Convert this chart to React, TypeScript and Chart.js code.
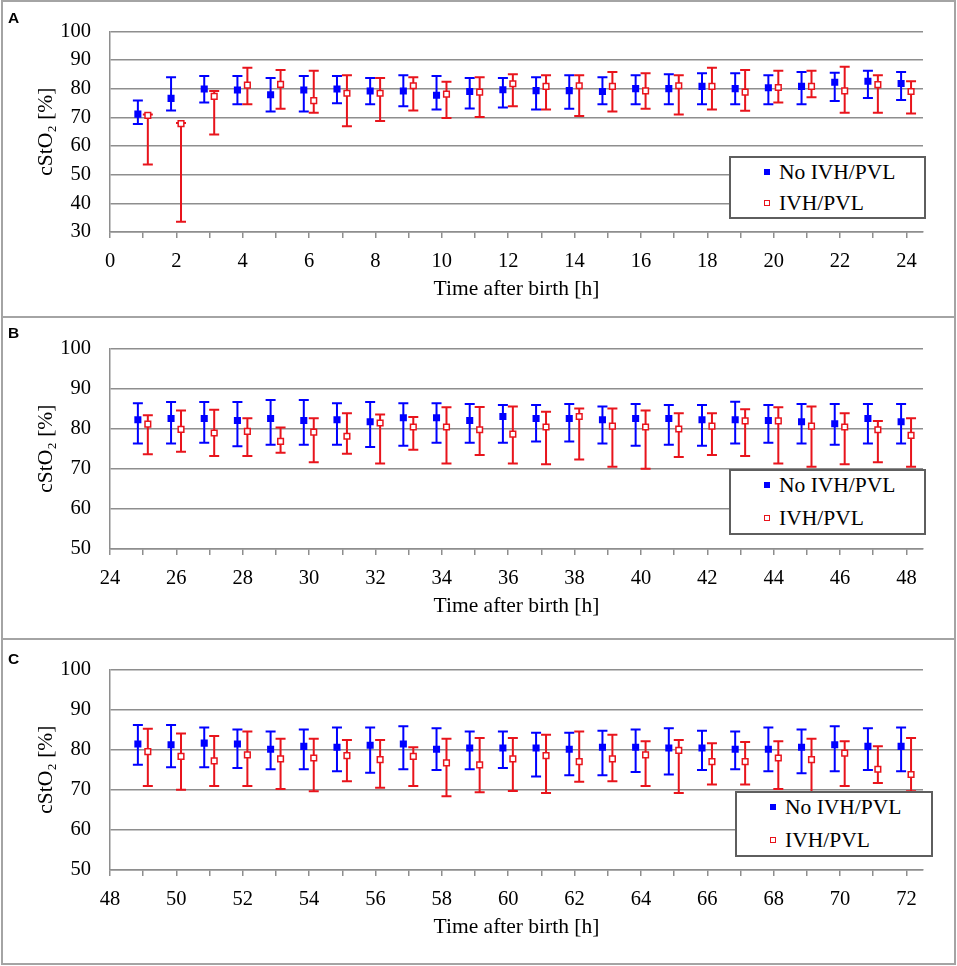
import React, { useEffect, useRef } from "react";
import { Chart, registerables } from "chart.js";

Chart.register(...registerables);

// hours after birth per panel
const hoursA = [1, 2, 3, 4, 5, 6, 7, 8, 9, 10, 11, 12, 13, 14, 15, 16, 17, 18, 19, 20, 21, 22, 23, 24];
const hoursB = [25, 26, 27, 28, 29, 30, 31, 32, 33, 34, 35, 36, 37, 38, 39, 40, 41, 42, 43, 44, 45, 46, 47, 48];
const hoursC = [49, 50, 51, 52, 53, 54, 55, 56, 57, 58, 59, 60, 61, 62, 63, 64, 65, 66, 67, 68, 69, 70, 71, 72];

// panel A: 0-24 h
const noA = [71.1, 76.6, 79.9, 79.5, 77.9, 79.5, 79.9, 79.2, 79.2, 77.7, 79.0, 79.6, 79.3, 79.3, 79.0, 80.0, 80.0, 80.8, 80.0, 80.3, 80.8, 82.2, 82.6, 81.8];
const noAHigh = [75.9, 84.0, 84.4, 84.4, 83.7, 84.4, 84.4, 83.7, 84.7, 84.4, 83.7, 83.7, 84.0, 84.7, 84.0, 84.7, 85.0, 85.4, 85.4, 84.7, 85.8, 85.5, 86.2, 85.8];
const noALow = [67.7, 72.4, 75.2, 74.6, 72.0, 72.0, 74.9, 74.6, 73.9, 72.7, 73.1, 73.4, 72.7, 73.0, 74.6, 74.6, 74.6, 74.6, 74.6, 74.6, 74.6, 75.7, 76.7, 76.0];
const ivhA = [70.7, 67.8, 77.3, 81.2, 81.5, 75.8, 78.4, 78.4, 81.0, 78.1, 78.8, 81.7, 80.8, 81.0, 80.8, 79.2, 81.0, 80.8, 78.8, 80.4, 80.8, 79.2, 81.4, 79.0];
const ivhAHigh = [71.0, 68.0, 79.2, 87.3, 86.5, 86.2, 84.7, 83.7, 84.0, 82.4, 84.0, 85.0, 84.7, 84.7, 85.8, 85.4, 84.7, 87.3, 86.5, 86.2, 86.2, 87.6, 84.7, 82.6];
const ivhALow = [53.5, 33.6, 64.0, 74.6, 73.0, 71.6, 66.9, 68.7, 72.4, 69.8, 70.1, 73.9, 72.7, 70.5, 72.0, 73.0, 71.0, 72.7, 72.3, 75.2, 77.0, 71.6, 71.6, 71.3];

// panel B: 24-48 h
const noB = [82.2, 82.5, 82.5, 82.0, 82.5, 82.0, 82.2, 81.7, 82.7, 82.7, 82.0, 83.0, 82.5, 82.5, 82.2, 82.5, 82.5, 82.2, 82.2, 82.0, 81.7, 81.2, 82.5, 81.7];
const noBHigh = [86.3, 86.6, 86.6, 86.6, 87.1, 87.1, 86.3, 86.6, 86.3, 86.3, 86.1, 85.9, 85.9, 86.1, 85.5, 86.1, 85.9, 85.9, 86.7, 85.9, 86.1, 86.1, 86.1, 86.1];
const noBLow = [76.3, 76.3, 76.5, 75.6, 76.0, 76.0, 76.0, 75.4, 75.7, 76.5, 76.5, 76.5, 76.8, 76.8, 76.3, 75.7, 76.0, 75.7, 76.3, 76.5, 76.3, 76.0, 76.3, 76.3];
const ivhB = [81.1, 79.8, 78.9, 79.3, 76.8, 79.1, 78.1, 81.4, 80.4, 80.4, 79.7, 78.6, 80.4, 83.0, 80.6, 80.4, 79.9, 80.6, 81.9, 81.9, 80.6, 80.4, 79.7, 78.3];
const ivhBHigh = [83.3, 84.5, 84.7, 82.6, 80.3, 82.6, 83.8, 83.5, 82.9, 85.3, 85.4, 85.5, 84.2, 85.0, 85.0, 84.5, 83.8, 83.8, 84.8, 85.3, 85.5, 83.8, 81.9, 82.6];
const ivhBLow = [73.6, 74.2, 73.2, 73.2, 74.0, 71.6, 73.7, 71.3, 74.7, 71.3, 73.4, 71.3, 71.1, 72.3, 70.5, 70.0, 72.9, 73.4, 73.2, 71.3, 70.5, 71.1, 71.6, 70.5];

// panel C: 48-72 h
const noC = [81.4, 81.2, 81.6, 81.4, 80.1, 80.8, 80.6, 81.1, 81.4, 80.1, 80.4, 80.4, 80.4, 80.1, 80.6, 80.6, 80.4, 80.4, 80.1, 80.1, 80.6, 81.2, 80.8, 80.8];
const noCHigh = [86.1, 86.1, 85.5, 85.0, 84.5, 85.0, 85.5, 85.5, 85.8, 85.3, 84.5, 84.5, 84.2, 84.2, 84.7, 85.0, 85.3, 84.7, 84.5, 85.5, 85.0, 85.8, 85.3, 85.5];
const noCLow = [76.2, 75.6, 75.6, 75.4, 75.1, 75.1, 74.6, 74.2, 75.1, 74.9, 75.1, 75.4, 73.3, 73.6, 73.6, 74.4, 73.8, 74.9, 75.1, 74.6, 74.1, 74.6, 74.9, 74.6];
const ivhC = [79.5, 78.3, 77.2, 78.7, 77.7, 77.9, 78.5, 77.5, 78.3, 76.7, 76.2, 77.7, 78.5, 77.0, 77.7, 78.7, 79.8, 77.0, 77.0, 77.9, 77.5, 79.1, 75.1, 73.8];
const ivhCHigh = [85.2, 84.0, 83.4, 84.5, 82.7, 82.7, 82.4, 82.4, 80.6, 82.7, 82.9, 82.9, 83.7, 84.5, 83.7, 82.1, 82.4, 81.6, 81.9, 82.1, 82.7, 82.1, 80.8, 82.9];
const ivhCLow = [70.9, 70.0, 70.9, 70.9, 70.2, 69.6, 72.1, 70.5, 70.9, 68.4, 69.4, 69.7, 69.2, 72.0, 72.1, 70.9, 69.2, 71.3, 71.3, 70.2, 69.4, 70.9, 71.7, 69.6];

const BLUE = "#0000ff";
const RED = "#e8141c";
const GRID = "#8e8e8e";
const FRAME = "#a4a4a4";
const SERIF = "'Liberation Serif', 'Times New Roman', serif";

Chart.defaults.font.family = SERIF;
Chart.defaults.font.size = 20;
Chart.defaults.color = "#000";

// draws whiskers under the markers, using the chart's own y scale
const errorBars = {
  id: "errorBars",
  beforeDatasetsDraw(chart: any) {
    const { ctx } = chart;
    const yScale = chart.scales.y;
    chart.data.datasets.forEach((ds: any, i: number) => {
      const meta = chart.getDatasetMeta(i);
      ctx.save();
      ctx.strokeStyle = ds.borderColor;
      ctx.lineWidth = 2;
      meta.data.forEach((pt: any, j: number) => {
        const x = pt.x;
        const yLo = yScale.getPixelForValue(ds.lows[j]);
        const yHi = yScale.getPixelForValue(ds.highs[j]);
        ctx.beginPath();
        ctx.moveTo(x, yLo);
        ctx.lineTo(x, yHi);
        ctx.moveTo(x - 5, yLo);
        ctx.lineTo(x + 5, yLo);
        ctx.moveTo(x - 5, yHi);
        ctx.lineTo(x + 5, yHi);
        ctx.stroke();
      });
      ctx.restore();
    });
  }
};

type Series = { mean: number[]; low: number[]; high: number[] };

type PanelProps = {
  hours: number[];
  no: Series;
  ivh: Series;
  xMin: number;
  yMin: number;
  top: number;
};

const Panel = ({ hours, no, ivh, xMin, yMin, top }: PanelProps) => {
  const canvasRef = useRef<HTMLCanvasElement>(null);

  useEffect(() => {
    if (!canvasRef.current) return;
    const chart = new Chart(canvasRef.current, {
      type: "scatter",
      data: {
        datasets: [
          {
            label: "No IVH/PVL",
            data: hours.map((h, i) => ({ x: h - 0.16, y: no.mean[i] })),
            lows: no.low,
            highs: no.high,
            backgroundColor: BLUE,
            borderColor: BLUE,
            pointStyle: "rect",
            pointRadius: 5,
            borderWidth: 0
          } as any,
          {
            label: "IVH/PVL",
            data: hours.map((h, i) => ({ x: h + 0.14, y: ivh.mean[i] })),
            lows: ivh.low,
            highs: ivh.high,
            backgroundColor: "#ffffff",
            borderColor: RED,
            pointStyle: "rect",
            pointRadius: 4,
            borderWidth: 1.5
          } as any
        ]
      },
      options: {
        animation: false,
        responsive: true,
        maintainAspectRatio: false,
        layout: { padding: { left: 0, right: 34, top: 25, bottom: 0 } },
        plugins: { legend: { display: false }, tooltip: { enabled: false } },
        scales: {
          x: {
            type: "linear",
            min: xMin,
            max: xMin + 24.5,
            afterFit: (scale: any) => {
              scale.height = 85;
            },
            ticks: {
              stepSize: 1,
              includeBounds: false,
              autoSkip: false,
              maxRotation: 0,
              padding: 11,
              color: "#000",
              font: { family: SERIF, size: 20.5 },
              callback: (v: any) => (Number(v) % 2 === 0 ? String(v) : "")
            },
            grid: {
              drawOnChartArea: false,
              drawTicks: true,
              tickLength: 6,
              color: GRID,
              lineWidth: 1.5
            },
            border: { display: true, color: GRID, width: 1.5 },
            title: {
              display: true,
              text: "Time after birth [h]",
              color: "#000",
              font: { family: SERIF, size: 21.5 },
              padding: { top: 0, bottom: 15 }
            }
          },
          y: {
            min: yMin,
            max: 100,
            afterFit: (scale: any) => {
              scale.width = 110;
            },
            ticks: {
              stepSize: 10,
              padding: 19,
              color: "#000",
              font: { family: SERIF, size: 20.5 }
            },
            grid: { drawTicks: false, color: GRID, lineWidth: 1.5 },
            border: { display: true, color: GRID, width: 1.5 },
            title: {
              display: true,
              text: "cStO₂ [%]",
              color: "#000",
              font: { family: SERIF, size: 21.5 },
              padding: { top: 33, bottom: 0 }
            }
          }
        }
      },
      plugins: [errorBars]
    });
    return () => {
      chart.destroy();
    };
  }, [hours, no, ivh, xMin, yMin]);

  return (
    <div style={{ position: "absolute", left: 0, top, width: 957, height: 317 }}>
      <canvas ref={canvasRef} />
    </div>
  );
};

type LegendProps = { left: number; top: number; width: number; height: number; gap: number };

const Legend = ({ left, top, width, height, gap }: LegendProps) => {
  const rows = [
    { text: "No IVH/PVL", fill: BLUE, border: BLUE },
    { text: "IVH/PVL", fill: "#fff", border: RED }
  ];
  return (
    <div
      style={{
        position: "absolute",
        left,
        top,
        width,
        height,
        boxSizing: "border-box",
        border: "2px solid #5e5e5e",
        background: "#fff"
      }}
    >
      {rows.map((r, i) => (
        <div
          key={r.text}
          style={{
            position: "absolute",
            left: 33,
            top: 14 + i * gap - 12,
            height: 24,
            display: "flex",
            alignItems: "center",
            fontFamily: SERIF,
            fontSize: 21.5,
            color: "#000",
            whiteSpace: "nowrap"
          }}
        >
          <span
            style={{
              display: "inline-block",
              width: 6,
              height: 6,
              boxSizing: "border-box",
              background: r.fill,
              border: r.fill === BLUE ? "none" : `1.5px solid ${r.border}`,
              marginRight: 9
            }}
          />
          {r.text}
        </div>
      ))}
    </div>
  );
};

const labelStyle: React.CSSProperties = {
  position: "absolute",
  left: 8,
  fontFamily: "'Liberation Sans', Arial, sans-serif",
  fontWeight: "bold",
  fontSize: 15.5,
  color: "#000",
  lineHeight: "15px"
};

const App = () => (
  <div style={{ position: "absolute", left: 0, top: 0, width: 957, height: 966, background: "#fff" }}>
    <div
      style={{
        position: "absolute",
        left: 1,
        top: 0,
        width: 955,
        height: 965,
        boxSizing: "border-box",
        border: `2px solid ${FRAME}`
      }}
    />
    <div style={{ position: "absolute", left: 1, top: 316, width: 955, height: 2, background: FRAME }} />
    <div style={{ position: "absolute", left: 1, top: 638, width: 955, height: 2, background: FRAME }} />

    <Panel hours={hoursA} no={{ mean: noA, low: noALow, high: noAHigh }} ivh={{ mean: ivhA, low: ivhALow, high: ivhAHigh }} xMin={0} yMin={30} top={0} />
    <Panel hours={hoursB} no={{ mean: noB, low: noBLow, high: noBHigh }} ivh={{ mean: ivhB, low: ivhBLow, high: ivhBHigh }} xMin={24} yMin={50} top={317} />
    <Panel hours={hoursC} no={{ mean: noC, low: noCLow, high: noCHigh }} ivh={{ mean: ivhC, low: ivhCLow, high: ivhCHigh }} xMin={48} yMin={50} top={638} />

    <div style={{ ...labelStyle, top: 10 }}>A</div>
    <div style={{ ...labelStyle, top: 325 }}>B</div>
    <div style={{ ...labelStyle, top: 651 }}>C</div>

    <Legend left={729} top={156} width={197} height={63} gap={31} />
    <Legend left={729} top={469} width={197} height={66} gap={33} />
    <Legend left={735} top={791} width={198} height={66} gap={33} />
  </div>
);

export default App;
